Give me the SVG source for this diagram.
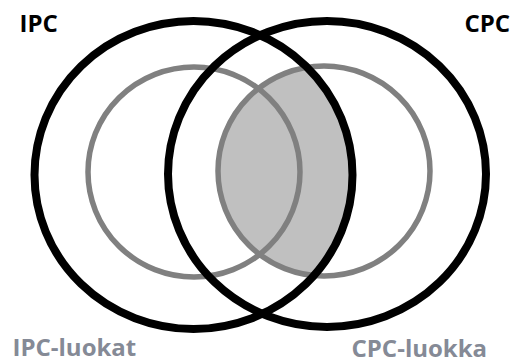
<svg xmlns="http://www.w3.org/2000/svg" width="517" height="364" viewBox="0 0 517 364">
  <style>
    .set { fill: none; stroke: #000; stroke-width: 8; }
    .sub { fill: none; stroke: #808080; stroke-width: 5.5; }
    .lbl { font-family: "Open Sans", "Liberation Sans", sans-serif; font-weight: bold; font-size: 24px; }
    .main { fill: #000; }
    .minor { fill: #858a96; }
  </style>
  <defs>
    <clipPath id="ipcClip">
      <ellipse cx="193.5" cy="175" rx="159" ry="154"/>
    </clipPath>
  </defs>
  <rect width="517" height="364" fill="#fff"/>
  <g id="overlap">
    <ellipse cx="324" cy="171" rx="106" ry="105" fill="#c0c0c0" clip-path="url(#ipcClip)"/>
  </g>
  <g id="ipc-luokat">
    <ellipse class="sub" cx="194" cy="172" rx="106" ry="105"/>
    <text class="lbl minor" x="12.5" y="356">IPC-luokat</text>
  </g>
  <g id="cpc-luokka">
    <ellipse class="sub" cx="324" cy="171" rx="106" ry="105"/>
    <text class="lbl minor" x="351.5" y="357">CPC-luokka</text>
  </g>
  <g id="ipc">
    <ellipse class="set" cx="193.5" cy="175" rx="159" ry="154"/>
    <text class="lbl main" x="19.5" y="32">IPC</text>
  </g>
  <g id="cpc">
    <ellipse class="set" cx="327" cy="174" rx="159" ry="153"/>
    <text class="lbl main" x="464.5" y="32">CPC</text>
  </g>
  <g id="connectors"/>
</svg>
